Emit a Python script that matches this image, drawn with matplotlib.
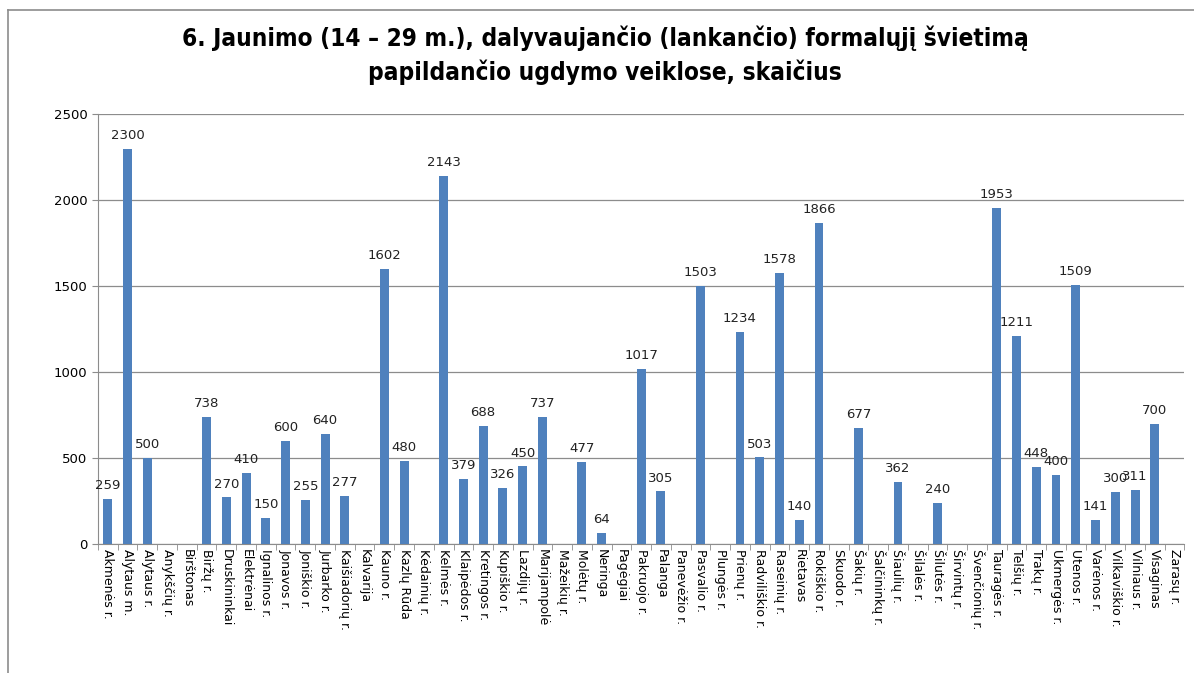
import numpy as np
import matplotlib.pyplot as plt
from matplotlib.lines import Line2D

regions = ['Akmenės r.', 'Alytaus m.', 'Alytaus r.', 'Anykščių r.', 'Birštonas', 'Biržų r.',
           'Druskininkai', 'Elektrėnai', 'Ignalinos r.', 'Jonavos r.', 'Joniškio r.', 'Jurbarko r.',
           'Kaišiadorių r.', 'Kalvarija', 'Kauno r.', 'Kazlų Rūda', 'Kėdainių r.', 'Kelmės r.',
           'Klaipėdos r.', 'Kretingos r.', 'Kupiškio r.', 'Lazdijų r.', 'Marijampolė', 'Mažeikių r.',
           'Molėtų r.', 'Neringa', 'Pagėgiai', 'Pakruojo r.', 'Palanga', 'Panevėžio r.',
           'Pasvalio r.', 'Plungės r.', 'Prienų r.', 'Radviliškio r.', 'Raseinių r.', 'Rietavas',
           'Rokiškio r.', 'Skuodo r.', 'Šakių r.', 'Šalčininkų r.', 'Šiaulių r.', 'Šilalės r.',
           'Šilutės r.', 'Širvintų r.', 'Švenčionių r.', 'Tauragės r.', 'Telšių r.', 'Trakų r.',
           'Ukmergės r.', 'Utenos r.', 'Varėnos r.', 'Vilkaviškio r.', 'Vilniaus r.', 'Visaginas',
           'Zarasų r.']
# None = no bar / no label in the source
values = [259, 2300, 500, None, None, 738,
          270, 410, 150, 600, 255, 640,
          277, None, 1602, 480, None, 2143,
          379, 688, 326, 450, 737, None,
          477, 64, None, 1017, 305, None,
          1503, None, 1234, 503, 1578, 140,
          1866, None, 677, None, 362, None,
          240, None, None, 1953, 1211, 448,
          400, 1509, 141, 300, 311, 700,
          None]

title = '6. Jaunimo (14 – 29 m.), dalyvaujančio (lankančio) formalųjį švietimą\npapildančio ugdymo veiklose, skaičius'

plt.rcParams['font.family'] = ['DejaVu Sans']
fig = plt.figure(figsize=(11.94, 6.73), dpi=100)
ax = fig.add_axes([0.082, 0.192, 0.91, 0.638])

x = np.arange(len(regions))
h = [v if v is not None else 0 for v in values]
ax.bar(x, h, width=0.45, color='#4F81BD', zorder=3)
for xi, v in zip(x, values):
    if v is not None:
        ax.text(xi, v + 40, str(v), ha='center', va='bottom', fontsize=9.5, color='#222222', zorder=4)

ax.set_xlim(-0.5, len(regions) - 0.5)
ax.set_ylim(0, 2500)
ax.set_yticks(range(0, 2501, 500))
ax.yaxis.grid(True, color='#8c8c8c', linewidth=0.9, zorder=0)
ax.set_xticks(x)
ax.set_xticklabels(regions, rotation=270, fontsize=9, va='top', ha='center')
ax.set_xticks(np.arange(-0.5, len(regions), 1), minor=True)
ax.tick_params(axis='x', which='major', length=0, pad=4)
ax.tick_params(axis='x', which='minor', length=4, color='#8c8c8c')
ax.tick_params(axis='y', length=4, color='#8c8c8c', labelsize=9.5)
for s in ['top', 'right']:
    ax.spines[s].set_visible(False)
for s in ['left', 'bottom']:
    ax.spines[s].set_color('#8c8c8c')

fig.text(0.507, 0.918, title, ha='center', va='center', fontsize=17.5, fontweight='bold',
         family=['DejaVu Sans Condensed', 'DejaVu Sans'], fontstretch='condensed', linespacing=1.4)

# chart area border (top and left edges visible)
fig.add_artist(Line2D([0.0067, 1.0], [0.985, 0.985], color='#8c8c8c', linewidth=1.2, transform=fig.transFigure))
fig.add_artist(Line2D([0.0067, 0.0067], [0.0, 0.985], color='#8c8c8c', linewidth=1.2, transform=fig.transFigure))

fig.savefig('out.png', dpi=100)
